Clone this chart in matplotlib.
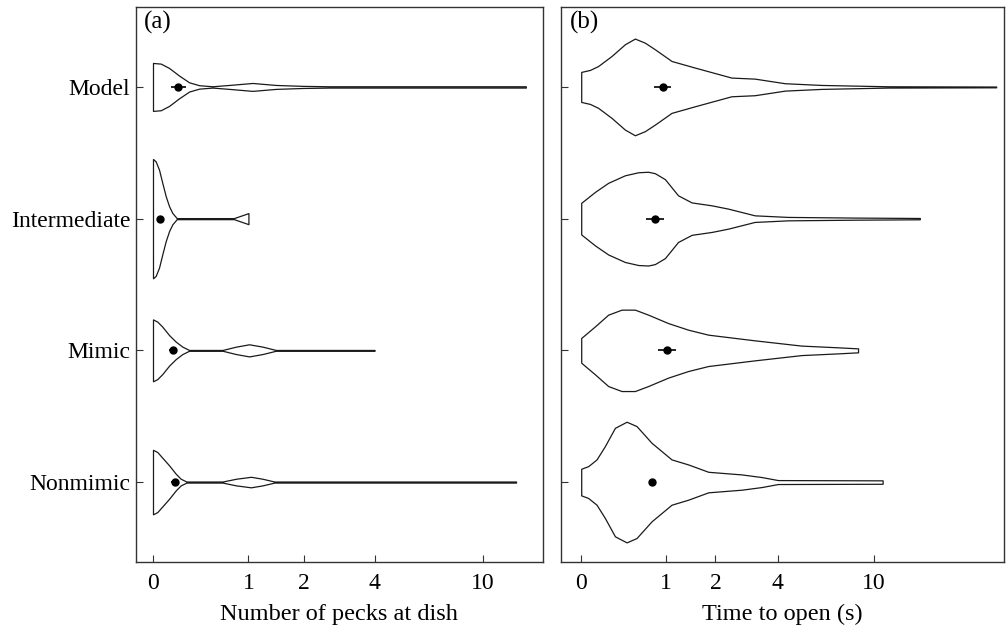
import numpy as np
import matplotlib
matplotlib.use("Agg")
import matplotlib.pyplot as plt

plt.rcParams['font.family'] = ['Liberation Serif', 'DejaVu Serif']

groups = ["Model", "Intermediate", "Mimic", "Nonmimic"]
ticks = [0, 1, 2, 4, 10]

# panel (a): number of pecks at dish -- violin outline (value, half width)
pecks_model_x = [0, 0.058, 0.124, 0.209, 0.30, 0.398, 0.54, 0.74, 1.06, 1.44, 1.97, 2.6, 14.0]
pecks_model_w = [0.182, 0.177, 0.144, 0.086, 0.035, 0.013, 0.005, 0.015, 0.030, 0.015, 0.008, 0.005, 0.005]
pecks_inter_x = [0, 0.0196, 0.0447, 0.070, 0.097, 0.124, 0.151, 0.188, 0.80, 1.0]
pecks_inter_w = [0.453, 0.435, 0.372, 0.271, 0.170, 0.094, 0.043, 0.004, 0.004, 0.042]
pecks_mimic_x = [0, 0.032, 0.070, 0.124, 0.18, 0.238, 0.30, 0.657, 0.826, 1.01, 1.217, 1.44, 4.0]
pecks_mimic_w = [0.235, 0.218, 0.18, 0.116, 0.066, 0.028, 0.003, 0.003, 0.028, 0.046, 0.028, 0.003, 0.003]
pecks_non_x = [0, 0.032, 0.070, 0.124, 0.18, 0.223, 0.275, 0.657, 0.826, 1.037, 1.217, 1.414, 12.97]
pecks_non_w = [0.245, 0.228, 0.185, 0.127, 0.063, 0.025, 0.004, 0.004, 0.025, 0.04, 0.025, 0.004, 0.004]
pecks_mean = [0.20, 0.052, 0.157, 0.174]
pecks_lo = [0.138, 0.035, 0.125, 0.14]
pecks_hi = [0.275, 0.07, 0.19, 0.21]

# panel (b): time to open (s)
time_model_x = [0, 0.074, 0.149, 0.282, 0.43, 0.552, 0.684, 0.828, 1.095, 1.535, 2.42, 3.14, 4.30, 6.15, 11.3, 28.9]
time_model_w = [0.114, 0.129, 0.159, 0.235, 0.324, 0.367, 0.336, 0.286, 0.197, 0.147, 0.071, 0.063, 0.028, 0.015, 0.005, 0.003]
time_inter_x = [0, 0.119, 0.247, 0.43, 0.594, 0.73, 0.828, 0.984, 1.21, 1.47, 1.91, 2.33, 3.14, 4.44, 8.39, 15.0]
time_inter_w = [0.12, 0.203, 0.272, 0.329, 0.352, 0.356, 0.345, 0.30, 0.177, 0.123, 0.101, 0.076, 0.025, 0.013, 0.008, 0.005]
time_mimic_x = [0, 0.119, 0.247, 0.392, 0.552, 0.73, 1.038, 1.40, 1.83, 3.14, 5.07, 7.19, 8.65]
time_mimic_w = [0.094, 0.182, 0.271, 0.309, 0.309, 0.271, 0.207, 0.157, 0.119, 0.076, 0.036, 0.023, 0.015]
time_non_x = [0, 0.059, 0.134, 0.214, 0.318, 0.45, 0.573, 0.779, 1.095, 1.40, 1.83, 2.33, 2.72, 3.38, 4.01, 10.8]
time_non_w = [0.101, 0.121, 0.172, 0.273, 0.412, 0.458, 0.425, 0.298, 0.172, 0.134, 0.078, 0.066, 0.058, 0.038, 0.015, 0.013]
time_mean = [0.946, 0.828, 1.02, 0.79]
time_lo = [0.817, 0.70, 0.878, 0.77]
time_hi = [1.083, 0.97, 1.18, 0.81]

panels = [
    ("(a)", "Number of pecks at dish",
     [(pecks_model_x, pecks_model_w), (pecks_inter_x, pecks_inter_w),
      (pecks_mimic_x, pecks_mimic_w), (pecks_non_x, pecks_non_w)],
     pecks_mean, pecks_lo, pecks_hi, (-0.118, 15.96)),
    ("(b)", "Time to open (s)",
     [(time_model_x, time_model_w), (time_inter_x, time_inter_w),
      (time_mimic_x, time_mimic_w), (time_non_x, time_non_w)],
     time_mean, time_lo, time_hi, (-0.155, 30.8)),
]

fig = plt.figure(figsize=(10.06, 6.29), dpi=100)
rects = [[0.1349, 0.1065, 0.4046, 0.8824], [0.5573, 0.1065, 0.4404, 0.8824]]

for i, (tag, xlab, shapes, mean, lo, hi, xlim) in enumerate(panels):
    ax = fig.add_axes(rects[i])
    ax.set_xscale('function', functions=(np.log1p, np.expm1))
    for pos, (x, w) in enumerate(shapes):
        x = np.array(x)
        w = np.array(w)
        ax.fill_between(x, pos - w, pos + w, facecolor='white',
                        edgecolor='#1a1a1a', linewidth=0.9, zorder=2)
        err = [[mean[pos] - lo[pos]], [hi[pos] - mean[pos]]]
        ax.errorbar(mean[pos], pos, xerr=err, fmt='o', color='black',
                    ms=5, elinewidth=1.2, capsize=0, zorder=3)
    ax.set_xlim(*xlim)
    ax.set_ylim(3.607, -0.607)
    ax.set_xticks(ticks)
    ax.set_xticklabels([str(t) for t in ticks])
    ax.set_yticks(range(len(groups)))
    if i == 0:
        ax.set_yticklabels(groups)
    else:
        ax.set_yticklabels([])
    ax.minorticks_off()
    ax.tick_params(direction='in', length=5, width=0.8, labelsize=17,
                   color='#333333')
    ax.tick_params(axis='x', pad=8)
    ax.tick_params(axis='y', pad=4)
    ax.set_xlabel(xlab, fontsize=17.5, labelpad=7)
    ax.text(0.02, 0.993, tag, transform=ax.transAxes, fontsize=18,
            ha='left', va='top')
    for s in ax.spines.values():
        s.set_color('#333333')
        s.set_linewidth(1.0)

fig.savefig("out.png", dpi=100)
